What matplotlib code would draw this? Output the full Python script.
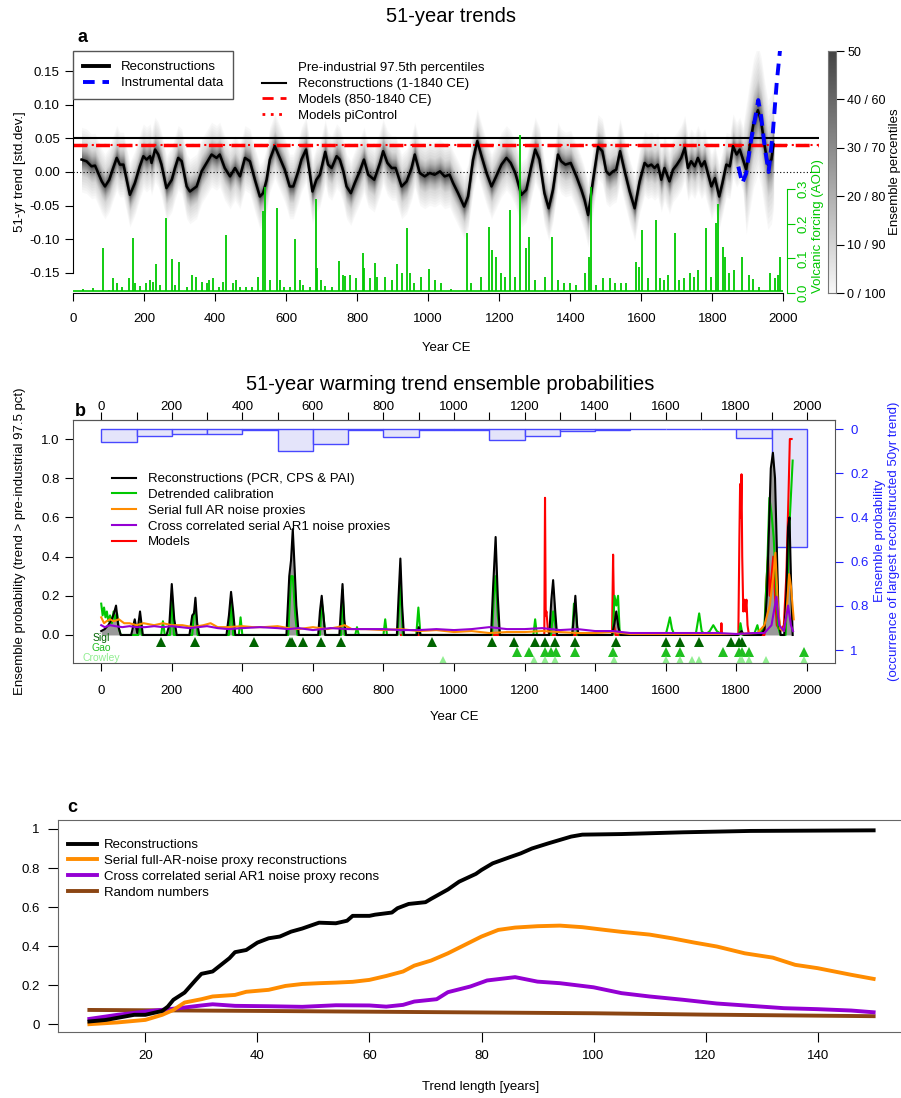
import matplotlib
matplotlib.use("Agg")
import matplotlib.pyplot as plt
import numpy as np
from matplotlib.colors import LinearSegmentedColormap
from matplotlib.lines import Line2D
from matplotlib.ticker import MultipleLocator

plt.rcParams['font.family'] = ['Liberation Sans', 'DejaVu Sans']
plt.rcParams['axes.unicode_minus'] = False
plt.rcParams['font.size'] = 9.5

# ---- a: 51-yr trends -------------------------------------------------------
med_years = [24, 38, 52, 62, 71, 81, 90, 102, 113, 123, 132, 142, 160, 174, 188,
             198, 207, 217, 221, 231, 240, 249, 263, 278, 287, 296, 306, 320, 329,
             348, 362, 376, 390, 404, 413, 427, 442, 456, 470, 484, 498, 512, 526,
             535, 545, 554, 568, 582, 596, 610, 620, 634, 643, 656, 665, 674, 685,
             695, 710, 718, 728, 742, 751, 761, 770, 782, 793, 807, 819, 831, 848,
             864, 873, 885, 897, 908, 925, 939, 953, 962, 976, 990, 1004, 1018,
             1033, 1046, 1060, 1070, 1084, 1101, 1112, 1126, 1138, 1150, 1164,
             1178, 1189, 1206, 1220, 1232, 1245, 1262, 1276, 1290, 1301, 1313,
             1327, 1339, 1351, 1365, 1374, 1386, 1401, 1417, 1431, 1440, 1450,
             1464, 1478, 1490, 1501, 1510, 1520, 1529, 1540, 1553, 1567, 1581,
             1595, 1609, 1618, 1628, 1637, 1646, 1656, 1665, 1679, 1689, 1700,
             1712, 1722, 1731, 1740, 1750, 1759, 1769, 1778, 1788, 1797, 1807,
             1819, 1828, 1839, 1849, 1858, 1868, 1877, 1886, 1895, 1905, 1916,
             1928, 1937, 1947, 1956, 1966, 1972]
med_trend = [0.0185, 0.016, 0.0085, 0.0095, -0.0015, -0.014, -0.0215, -0.0115,
             0.006, 0.021, 0.011, 0.011, -0.034, -0.0165, 0.0085, 0.0235, 0.0185,
             0.0235, 0.0135, 0.0335, 0.026, 0.011, -0.024, -0.0115, 0.006, 0.021,
             0.016, -0.0215, -0.029, -0.0215, 0.001, 0.0135, 0.026, 0.021, 0.026,
             0.006, -0.0065, 0.006, -0.0065, 0.021, 0.016, -0.0115, -0.0365,
             -0.0315, -0.0115, 0.0185, 0.0385, 0.021, 0.0035, -0.0215, -0.0215,
             0.001, 0.0185, 0.0335, 0.0035, -0.029, -0.0115, -0.004, 0.03, 0.011,
             0.006, 0.0235, 0.0185, 0.001, -0.0215, -0.0315, -0.0165, 0.001,
             0.0185, -0.004, -0.0115, 0.0135, 0.031, 0.0135, 0.006, 0.006,
             -0.0215, -0.014, 0.006, 0.026, -0.0015, -0.0065, -0.0015, -0.004,
             0.001, -0.0065, -0.004, -0.0165, -0.0315, -0.0515, -0.0365, 0.0185,
             0.046, 0.0235, -0.0015, -0.0215, -0.009, 0.011, 0.021, 0.0135,
             -0.0015, -0.034, -0.0265, 0.0085, 0.0335, 0.0185, -0.0315, -0.054,
             -0.0265, 0.026, 0.016, 0.011, 0.0135, -0.0065, -0.0265, -0.0415,
             -0.064, -0.0115, 0.0375, 0.031, 0.001, -0.004, 0.001, 0.0035, 0.031,
             0.001, -0.029, -0.054, -0.014, 0.0135, 0.0085, 0.011, 0.006, 0.011,
             -0.0115, 0.006, -0.014, 0.0035, 0.011, 0.021, 0.036, 0.006, 0.016,
             0.0085, 0.021, 0.0085, 0.016, -0.004, -0.0215, -0.009, -0.0365,
             -0.0165, 0.011, 0.0085, 0.0385, 0.026, 0.0335, 0.0185, 0.0035,
             0.0385, 0.0735, 0.092, 0.075, 0.0385, 0.011, 0.0185, 0.041]

# half-widths of the percentile pairs 50, 40/60, 30/70, 20/80, 10/90, 0/100
pct_pos = [0.0, 0.2, 0.4, 0.6, 0.8, 1.0]
pct_halfwidth = [0.0, 0.004, 0.009, 0.015, 0.024, 0.048]

instr_years = [1873, 1884, 1895, 1909, 1923, 1929, 1937, 1947, 1958, 1970, 1981, 1991]
instr_trend = [0.008, -0.017, -0.002, 0.048, 0.088, 0.107, 0.083, 0.038, 0.0,
               0.058, 0.133, 0.185]

pi_rec_975 = 0.05
pi_mod_975 = 0.0405
pi_ctrl_975 = 0.0395

volc_years = [29, 57, 85, 102, 113, 123, 137, 158, 168, 174, 190, 205, 217, 226,
              235, 245, 263, 278, 287, 299, 320, 334, 346, 362, 376, 383, 393,
              412, 423, 432, 449, 460, 470, 488, 503, 521, 534, 540, 554, 573,
              582, 594, 611, 626, 638, 648, 667, 683, 687, 697, 709, 728, 748,
              760, 767, 779, 798, 815, 820, 836, 851, 857, 878, 897, 913, 927,
              939, 948, 960, 981, 1002, 1018, 1035, 1065, 1110, 1121, 1148, 1170,
              1180, 1192, 1206, 1215, 1229, 1245, 1258, 1276, 1283, 1300, 1328,
              1347, 1366, 1383, 1399, 1415, 1440, 1453, 1459, 1473, 1492, 1511,
              1527, 1543, 1558, 1584, 1593, 1601, 1619, 1640, 1652, 1665, 1674,
              1695, 1707, 1721, 1736, 1749, 1760, 1782, 1797, 1809, 1817, 1830,
              1836, 1848, 1862, 1883, 1904, 1913, 1932, 1963, 1975, 1984, 1991]
volc_aod = [0.013, 0.015, 0.13, 0.01, 0.042, 0.028, 0.018, 0.042, 0.158, 0.028,
            0.02, 0.028, 0.038, 0.033, 0.084, 0.023, 0.216, 0.098, 0.023, 0.091,
            0.018, 0.052, 0.047, 0.033, 0.028, 0.038, 0.042, 0.018, 0.033, 0.168,
            0.028, 0.038, 0.018, 0.018, 0.018, 0.047, 0.236, 0.308, 0.038, 0.245,
            0.038, 0.018, 0.018, 0.156, 0.038, 0.023, 0.018, 0.271, 0.071, 0.038,
            0.02, 0.018, 0.094, 0.052, 0.049, 0.052, 0.042, 0.115, 0.071, 0.042,
            0.088, 0.047, 0.045, 0.038, 0.084, 0.057, 0.187, 0.057, 0.03, 0.047,
            0.069, 0.038, 0.028, 0.013, 0.175, 0.028, 0.047, 0.19, 0.125, 0.105,
            0.057, 0.047, 0.24, 0.045, 0.458, 0.13, 0.163, 0.038, 0.045, 0.161,
            0.038, 0.028, 0.028, 0.023, 0.057, 0.105, 0.308, 0.023, 0.042, 0.042,
            0.028, 0.028, 0.028, 0.091, 0.076, 0.181, 0.042, 0.21, 0.042, 0.038,
            0.052, 0.175, 0.038, 0.042, 0.057, 0.047, 0.066, 0.187, 0.047, 0.202,
            0.257, 0.134, 0.105, 0.057, 0.066, 0.103, 0.052, 0.04, 0.018, 0.057,
            0.042, 0.052, 0.105]
aod_background = 0.006

pct_ticks = [0, 10, 20, 30, 40, 50]
pct_labels = ['0 / 100', '10 / 90', '20 / 80', '30 / 70', '40 / 60', '50']

# ---- b: ensemble probabilities --------------------------------------------
cent_start = [0, 100, 200, 300, 400, 500, 600, 700, 800, 900, 1000, 1100, 1200,
              1300, 1400, 1500, 1600, 1700, 1800, 1900]
cent_prob = [0.06, 0.033, 0.024, 0.023, 0.006, 0.10, 0.068, 0.005, 0.035, 0.003,
             0.003, 0.05, 0.033, 0.01, 0.006, 0.0, 0.0, 0.0, 0.042, 0.535]

rec_years = [0, 10, 20, 30, 36, 42, 48, 55, 85, 95, 102, 110, 118, 185, 193, 200,
             207, 214, 250, 258, 263, 267, 272, 278, 355, 362, 368, 374, 380, 525,
             533, 538, 543, 548, 553, 560, 615, 620, 625, 630, 635, 675, 680, 684,
             689, 694, 838, 843, 848, 853, 858, 895, 900, 905, 1105, 1111, 1118,
             1124, 1130, 1270, 1276, 1281, 1287, 1292, 1335, 1340, 1344, 1349,
             1353, 1448, 1455, 1460, 1466, 1472, 1805, 1815, 1822, 1830, 1870,
             1880, 1887, 1893, 1898, 1904, 1910, 1915, 1920, 1926, 1936, 1942,
             1947, 1951, 1955, 1960]
rec_prob = [0.02, 0.03, 0.05, 0.08, 0.11, 0.15, 0.05, 0.0, 0.0, 0.08, 0.01, 0.12,
            0.0, 0.0, 0.05, 0.26, 0.08, 0.0, 0.0, 0.1, 0.11, 0.19, 0.06, 0.0, 0.0,
            0.1, 0.22, 0.12, 0.0, 0.0, 0.3, 0.38, 0.54, 0.35, 0.15, 0.0, 0.0, 0.12,
            0.2, 0.1, 0.0, 0.0, 0.15, 0.26, 0.08, 0.0, 0.0, 0.2, 0.39, 0.15, 0.0,
            0.0, 0.04, 0.0, 0.0, 0.25, 0.5, 0.2, 0.0, 0.0, 0.18, 0.28, 0.12, 0.0,
            0.0, 0.1, 0.2, 0.05, 0.0, 0.0, 0.06, 0.12, 0.04, 0.0, 0.0, 0.02, 0.0,
            0.0, 0.0, 0.03, 0.2, 0.55, 0.85, 0.93, 0.8, 0.45, 0.1, 0.0, 0.0, 0.2,
            0.55, 0.6, 0.3, 0.0]

det_years = [0, 4, 8, 12, 16, 20, 25, 30, 35, 40, 45, 50, 56, 105, 110, 115, 170,
             175, 180, 195, 200, 206, 258, 263, 268, 273, 362, 368, 374, 390, 395,
             400, 530, 538, 543, 550, 556, 620, 625, 630, 635, 680, 684, 690, 720,
             725, 730, 800, 805, 810, 840, 848, 855, 893, 899, 905, 1108, 1113,
             1118, 1124, 1130, 1225, 1230, 1235, 1275, 1281, 1287, 1292, 1335,
             1340, 1345, 1350, 1450, 1455, 1460, 1465, 1470, 1600, 1607, 1612,
             1618, 1625, 1685, 1695, 1702, 1712, 1725, 1735, 1745, 1760, 1808,
             1812, 1818, 1850, 1860, 1866, 1880, 1888, 1894, 1900, 1906, 1912,
             1918, 1925, 1940, 1946, 1952, 1960]
det_prob = [0.16, 0.1, 0.14, 0.09, 0.12, 0.07, 0.1, 0.06, 0.12, 0.08, 0.11, 0.03,
            0.0, 0.0, 0.06, 0.0, 0.0, 0.07, 0.0, 0.0, 0.21, 0.0, 0.0, 0.12, 0.12,
            0.0, 0.0, 0.19, 0.0, 0.0, 0.09, 0.0, 0.0, 0.3, 0.3, 0.1, 0.0, 0.0,
            0.17, 0.1, 0.0, 0.0, 0.23, 0.0, 0.0, 0.04, 0.0, 0.0, 0.08, 0.0, 0.0,
            0.26, 0.0, 0.0, 0.14, 0.0, 0.0, 0.2, 0.3, 0.1, 0.0, 0.0, 0.08, 0.0,
            0.0, 0.12, 0.05, 0.0, 0.0, 0.16, 0.14, 0.0, 0.0, 0.2, 0.15, 0.2, 0.0,
            0.0, 0.05, 0.09, 0.03, 0.0, 0.0, 0.11, 0.02, 0.0, 0.02, 0.05, 0.02,
            0.0, 0.0, 0.06, 0.0, 0.0, 0.05, 0.0, 0.05, 0.35, 0.7, 0.62, 0.5, 0.3,
            0.05, 0.0, 0.0, 0.3, 0.6, 0.89]

ar_years = [0, 8, 15, 25, 35, 50, 65, 80, 100, 120, 150, 175, 200, 230, 260, 290,
            310, 330, 360, 400, 430, 460, 500, 530, 560, 600, 640, 670, 690, 710,
            750, 800, 850, 900, 950, 1000, 1050, 1100, 1150, 1200, 1250, 1300,
            1350, 1400, 1450, 1500, 1600, 1700, 1800, 1860, 1880, 1895, 1905,
            1911, 1918, 1925, 1935, 1942, 1950, 1955, 1963]
ar_prob = [0.09, 0.06, 0.07, 0.08, 0.07, 0.08, 0.06, 0.06, 0.05, 0.06, 0.05, 0.06,
           0.05, 0.05, 0.04, 0.05, 0.06, 0.04, 0.04, 0.045, 0.04, 0.04, 0.045,
           0.035, 0.03, 0.04, 0.03, 0.04, 0.05, 0.03, 0.03, 0.025, 0.03, 0.02,
           0.025, 0.015, 0.02, 0.01, 0.015, 0.015, 0.02, 0.015, 0.01, 0.01, 0.015,
           0.005, 0.005, 0.005, 0.005, 0.01, 0.05, 0.15, 0.3, 0.42, 0.15, 0.03,
           0.02, 0.1, 0.31, 0.25, 0.08]

cc_years = [0, 10, 25, 40, 60, 80, 100, 125, 150, 175, 200, 225, 250, 275, 300,
            330, 360, 400, 450, 500, 530, 560, 600, 650, 700, 750, 800, 850, 900,
            950, 1000, 1050, 1100, 1150, 1200, 1250, 1300, 1350, 1400, 1450, 1500,
            1550, 1600, 1650, 1700, 1750, 1800, 1850, 1880, 1900, 1914, 1922,
            1935, 1947, 1955, 1961]
cc_prob = [0.05, 0.04, 0.05, 0.045, 0.04, 0.045, 0.04, 0.04, 0.045, 0.04, 0.045,
           0.04, 0.035, 0.04, 0.045, 0.035, 0.03, 0.035, 0.04, 0.035, 0.03, 0.035,
           0.025, 0.035, 0.03, 0.03, 0.03, 0.025, 0.025, 0.03, 0.025, 0.03, 0.04,
           0.03, 0.03, 0.035, 0.025, 0.03, 0.02, 0.02, 0.01, 0.01, 0.01, 0.01,
           0.01, 0.01, 0.005, 0.01, 0.01, 0.05, 0.195, 0.05, 0.02, 0.15, 0.05,
           0.02]

mod_years = [850, 1000, 1250, 1256, 1258, 1260, 1262, 1266, 1270, 1448, 1451, 1454,
             1458, 1756, 1758, 1760, 1806, 1809, 1811, 1813, 1815, 1817, 1820,
             1823, 1826, 1829, 1832, 1836, 1880, 1885, 1890, 1895, 1900, 1905,
             1910, 1915, 1925, 1935, 1942, 1948, 1952, 1957]
mod_prob = [0.0, 0.0, 0.0, 0.0, 0.70, 0.1, 0.12, 0.03, 0.0, 0.0, 0.41, 0.05, 0.0,
            0.0, 0.06, 0.0, 0.0, 0.5, 0.77, 0.6, 0.82, 0.4, 0.12, 0.18, 0.12,
            0.18, 0.05, 0.0, 0.0, 0.25, 0.4, 0.2, 0.3, 0.4, 0.2, 0.05, 0.02, 0.05,
            0.3, 0.7, 1.0, 1.0]

sigl_years = [169, 266, 432, 536, 540, 573, 624, 681, 939, 1107, 1170, 1229, 1257,
              1286, 1344, 1458, 1600, 1640, 1695, 1784, 1809, 1815]
gao_years = [1178, 1213, 1258, 1275, 1288, 1343, 1452, 1601, 1641, 1763, 1809,
             1815, 1835, 1991]
crowley_years = [970, 1228, 1258, 1287, 1454, 1600, 1640, 1674, 1695, 1812, 1815,
                 1836, 1883, 1991]

# ---- c: probability vs trend length ---------------------------------------
len_rec = [10, 13, 18, 20, 23, 24, 25, 27, 29, 30, 32, 35, 36, 38, 40, 42, 44, 46,
           48, 51, 54, 56, 57, 60, 61, 64, 65, 67, 70, 71, 74, 76, 79, 80, 82, 85,
           87, 89, 92, 94, 96, 98, 105, 116, 128, 150]
p_rec = [0.014, 0.022, 0.048, 0.048, 0.068, 0.09, 0.125, 0.162, 0.227, 0.258,
         0.27, 0.338, 0.369, 0.38, 0.418, 0.44, 0.449, 0.474, 0.49, 0.52, 0.517,
         0.53, 0.555, 0.555, 0.561, 0.572, 0.594, 0.616, 0.625, 0.642, 0.69, 0.73,
         0.77, 0.79, 0.824, 0.855, 0.875, 0.9, 0.927, 0.944, 0.961, 0.971, 0.974,
         0.983, 0.99, 0.993]
len_ar = [10, 15, 20, 23, 25, 27, 30, 32, 36, 38, 42, 45, 48, 51, 54, 57, 60, 63,
          66, 68, 71, 74, 77, 80, 83, 86, 90, 94, 98, 102, 105, 110, 114, 118, 122,
          127, 132, 136, 140, 146, 150]
p_ar = [0.0, 0.009, 0.022, 0.048, 0.073, 0.111, 0.128, 0.142, 0.15, 0.166, 0.176,
        0.196, 0.206, 0.21, 0.213, 0.217, 0.227, 0.247, 0.27, 0.3, 0.326, 0.363,
        0.406, 0.449, 0.483, 0.495, 0.502, 0.505, 0.497, 0.483, 0.473, 0.459, 0.44,
        0.418, 0.398, 0.363, 0.341, 0.304, 0.287, 0.253, 0.232]
len_cc = [10, 15, 21, 26, 30, 32, 36, 42, 48, 54, 60, 63, 66, 68, 72, 74, 78, 81,
          86, 90, 94, 100, 105, 110, 116, 122, 128, 134, 140, 146, 150]
p_cc = [0.027, 0.048, 0.068, 0.082, 0.096, 0.102, 0.094, 0.092, 0.089, 0.097,
        0.096, 0.09, 0.099, 0.116, 0.128, 0.164, 0.193, 0.224, 0.241, 0.218, 0.21,
        0.189, 0.159, 0.142, 0.125, 0.106, 0.094, 0.082, 0.077, 0.07, 0.061]
len_rand = [10, 40, 75, 100, 120, 150]
p_rand = [0.073, 0.068, 0.061, 0.056, 0.049, 0.041]

GREEN = '#00c800'
BOXC = '#555555'
FS = 9.5
W, H = 901, 1098


def fx(px):
    return px / W


def fy(py):
    return 1 - py / H


def box(x0, y0, x1, y1):
    return [fx(x0), fy(y1), (x1 - x0) / W, (y1 - y0) / H]


gray_cmap = LinearSegmentedColormap.from_list('pct', ['#444444', '#f8f8f8'])

fig = plt.figure(figsize=(9.01, 10.98), dpi=100)

# ============================ panel a ============================
ax_a = fig.add_axes(box(73, 51, 819, 293))
ax_a.set_xlim(0, 2100)
ax_a.set_ylim(-0.18, 0.18)
for s in ['top', 'right']:
    ax_a.spines[s].set_visible(False)
ax_a.spines['left'].set_bounds(-0.15, 0.15)
ax_a.spines['bottom'].set_bounds(0, 2000)
ax_a.set_xticks(range(0, 2001, 200))
yt = [-0.15, -0.10, -0.05, 0.0, 0.05, 0.10, 0.15]
ax_a.set_yticks(yt)
ax_a.set_yticklabels(['%.2f' % v for v in yt])
ax_a.tick_params(length=6, width=0.8, labelsize=FS)
ax_a.tick_params(axis='x', pad=8.5)

my = np.array(med_years)
mv = np.array(med_trend)
widen = np.where(my >= 1890, 2.0, 1.0)
frac = np.linspace(1.0, 0.03, 30)
hw = np.interp(frac, pct_pos, pct_halfwidth)
for f, h in zip(frac, hw):
    ax_a.fill_between(my, mv - h * widen, mv + h * widen, color=gray_cmap(f), lw=0)

ax_a.hlines(0, 0, 2080, color='black', lw=0.8, ls=(0, (1, 2)))
ax_a.axhline(pi_rec_975, color='black', lw=1.5)
ax_a.axhline(pi_ctrl_975, color='red', lw=1.5, ls=(0, (1, 2)))
ax_a.axhline(pi_mod_975, color='red', lw=2.5, ls=(0, (4, 2.5)))
ax_a.plot(my, mv, color='black', lw=1.8)
ax_a.plot(instr_years, instr_trend, color='#0000ff', lw=2.8, ls=(0, (3, 2)))

leg1 = ax_a.legend([Line2D([], [], color='black', lw=2.8),
                    Line2D([], [], color='#0000ff', lw=2.8, ls=(0, (3, 2)))],
                   ['Reconstructions', 'Instrumental data'],
                   loc='upper left', bbox_to_anchor=(0, 1), borderaxespad=0,
                   frameon=True, fancybox=False, edgecolor=BOXC, framealpha=1,
                   handlelength=2.0, handletextpad=0.9, borderpad=0.75,
                   labelspacing=0.3, fontsize=FS)
leg1.get_frame().set_linewidth(1.0)
ax_a.add_artist(leg1)
ax_a.legend([Line2D([], [], lw=0),
             Line2D([], [], color='black', lw=1.5),
             Line2D([], [], color='red', lw=2.0, ls=(0, (4, 2.5))),
             Line2D([], [], color='red', lw=2.0, ls=(0, (1, 2)))],
            ['Pre-industrial 97.5th percentiles', 'Reconstructions (1-1840 CE)',
             'Models (850-1840 CE)', 'Models piControl'],
            loc='upper left', bbox_to_anchor=(fx(262), fy(62)),
            bbox_transform=fig.transFigure, borderaxespad=0, borderpad=0,
            frameon=False, handlelength=1.8, handletextpad=0.95,
            labelspacing=0.28, fontsize=FS)

ax_v = ax_a.twinx()
ax_v.set_ylim(0, 0.70)
for s in ['top', 'left', 'bottom']:
    ax_v.spines[s].set_visible(False)
ax_v.spines['right'].set_position(('data', 2011))
ax_v.spines['right'].set_bounds(0, 0.3)
ax_v.spines['right'].set_color(GREEN)
ax_v.set_yticks([0, 0.1, 0.2, 0.3])
ax_v.set_yticklabels(['0.0', '0.1', '0.2', '0.3'], rotation=90, va='center')
ax_v.tick_params(axis='y', colors=GREEN, length=6, width=0.8, pad=1.5, labelsize=FS)
ax_v.hlines(aod_background, 1, 2000, color=GREEN, lw=1.2)
ax_v.vlines(volc_years, aod_background, volc_aod, color=GREEN, lw=1.3)

ax_cb = fig.add_axes(box(828, 51, 836, 293))
grad = np.linspace(0, 50, 256)[:, None]
ax_cb.imshow(grad, aspect='auto', cmap=gray_cmap.reversed(), origin='lower',
             extent=[0, 1, 0, 50], vmin=0, vmax=50)
ax_cb.set_xticks([])
ax_cb.yaxis.tick_right()
ax_cb.set_yticks(pct_ticks)
ax_cb.set_yticklabels(pct_labels)
ax_cb.tick_params(axis='y', length=6, width=0.8, labelsize=9, pad=2)
for s in ax_cb.spines.values():
    s.set_color('#777777')

fig.text(0.5, fy(17), '51-year trends', ha='center', va='center', fontsize=14.5)
fig.text(fx(83), fy(37), 'a', ha='center', va='center', fontsize=13, weight='bold')
fig.text(fx(446), fy(348), 'Year CE', ha='center', va='center', fontsize=FS)
fig.text(fx(20), fy(172), '51-yr trend [std.dev.]', rotation=90, ha='center',
         va='center', fontsize=FS)
fig.text(fx(818), fy(226), 'Volcanic forcing (AOD)', rotation=90, ha='center',
         va='center', fontsize=FS, color=GREEN)
fig.text(fx(895), fy(172), 'Ensemble percentiles', rotation=90, ha='center',
         va='center', fontsize=FS)

# ============================ panel b ============================
ax_b = fig.add_axes(box(73, 420, 835, 663))
ax_b.set_xlim(-80, 2080)
ax_b.set_ylim(-0.143, 1.097)
ax_o = ax_b.twinx()
ax_o.set_ylim(1.0585, -0.041)
ax_b.set_zorder(ax_o.get_zorder() + 1)
ax_b.patch.set_visible(False)
for s in ax_o.spines.values():
    s.set_visible(False)
ax_o.bar(cent_start, cent_prob, width=100, align='edge', color='#e4e4fa',
         edgecolor='#4848ff', lw=1.0)
ax_o.set_yticks([0, 0.2, 0.4, 0.6, 0.8, 1.0])
ax_o.set_yticklabels(['0', '0.2', '0.4', '0.6', '0.8', '1'])
ax_o.tick_params(axis='y', colors='#2020ff', length=6, width=0.8, pad=5, labelsize=FS)

for s in ax_b.spines.values():
    s.set_color(BOXC)
ax_b.set_xticks(range(0, 2001, 200))
ax_b.tick_params(axis='x', length=6, width=0.8, labelsize=FS, pad=10)
ax_b.set_yticks([0, 0.2, 0.4, 0.6, 0.8, 1.0])
ax_b.set_yticklabels(['0.0', '0.2', '0.4', '0.6', '0.8', '1.0'])
ax_b.tick_params(axis='y', length=6, width=0.8, labelsize=FS)

ax_top = ax_b.secondary_xaxis('top')
ax_top.set_xticks(range(0, 2001, 200))
ax_top.xaxis.set_minor_locator(MultipleLocator(100))
ax_top.tick_params(axis='x', which='both', length=6, width=0.8, labelsize=FS, pad=-1)
ax_top.spines['top'].set_color(BOXC)

ax_b.fill_between(rec_years, 0, rec_prob, color='#999999', lw=0)
ax_b.plot(mod_years, mod_prob, color='#ff0000', lw=1.5)
ax_b.plot(det_years, det_prob, color=GREEN, lw=1.5)
ax_b.plot(rec_years, rec_prob, color='black', lw=1.5)
ax_b.plot(ar_years, ar_prob, color='#ff8c00', lw=1.5)
ax_b.plot(cc_years, cc_prob, color='#9400d3', lw=1.5)

ax_b.plot(sigl_years, [-0.036] * len(sigl_years), '^', color='#006400', ms=7, mew=0)
ax_b.plot(gao_years, [-0.087] * len(gao_years), '^', color='#20c020', ms=7, mew=0)
ax_b.plot(crowley_years, [-0.133] * len(crowley_years), '^', color='#90ee90', ms=7,
          mew=0)

ax_b.legend([Line2D([], [], color=c, lw=1.5) for c in
             ['black', GREEN, '#ff8c00', '#9400d3', '#ff0000']],
            ['Reconstructions (PCR, CPS & PAI)', 'Detrended calibration',
             'Serial full AR noise proxies', 'Cross correlated serial AR1 noise proxies',
             'Models'],
            loc='upper left', bbox_to_anchor=(fx(112), fy(473)),
            bbox_transform=fig.transFigure, borderaxespad=0, borderpad=0,
            frameon=False, handlelength=1.8, handletextpad=0.95,
            labelspacing=0.27, fontsize=FS)

fig.text(fx(101), fy(638), 'Sigl', ha='center', va='center', fontsize=7.5,
         color='#006400')
fig.text(fx(101), fy(648), 'Gao', ha='center', va='center', fontsize=7.5,
         color='#20c020')
fig.text(fx(101), fy(658), 'Crowley', ha='center', va='center', fontsize=7.5,
         color='#90ee90')

fig.text(0.5, fy(385), '51-year warming trend ensemble probabilities', ha='center',
         va='center', fontsize=14.5)
fig.text(fx(80), fy(411), 'b', ha='center', va='center', fontsize=13, weight='bold')
fig.text(fx(454), fy(717), 'Year CE', ha='center', va='center', fontsize=FS)
fig.text(fx(20), fy(541), 'Ensemble probability (trend > pre-industrial 97.5 pct)',
         rotation=90, ha='center', va='center', fontsize=FS)
fig.text(fx(887), fy(541),
         'Ensemble probability\n(occurrence of largest reconstructed 50yr trend)',
         rotation=90, ha='center', va='center', fontsize=FS, color='#2020ff',
         linespacing=1.2)

# ============================ panel c ============================
ax_c = fig.add_axes(box(58, 820, 905, 1032))
ax_c.set_xlim(4.4, 155.6)
ax_c.set_ylim(-0.04, 1.046)
for s in ax_c.spines.values():
    s.set_color('#666666')
ax_c.set_xticks(range(20, 141, 20))
ax_c.set_yticks([0, 0.2, 0.4, 0.6, 0.8, 1.0])
ax_c.set_yticklabels(['0', '0.2', '0.4', '0.6', '0.8', '1'])
ax_c.tick_params(length=7, width=0.8, labelsize=FS, pad=6)

ax_c.plot(len_rand, p_rand, color='#8b4513', lw=2.8)
ax_c.plot(len_cc, p_cc, color='#9400d3', lw=2.8)
ax_c.plot(len_ar, p_ar, color='#ff8c00', lw=2.8)
ax_c.plot(len_rec, p_rec, color='black', lw=2.8)

ax_c.legend([Line2D([], [], color=c, lw=2.8) for c in
             ['black', '#ff8c00', '#9400d3', '#8b4513']],
            ['Reconstructions', 'Serial full-AR-noise proxy reconstructions',
             'Cross correlated serial AR1 noise proxy recons', 'Random numbers'],
            loc='upper left', bbox_to_anchor=(fx(68), fy(839)),
            bbox_transform=fig.transFigure, borderaxespad=0, borderpad=0,
            frameon=False, handlelength=2.2, handletextpad=0.55,
            labelspacing=0.27, fontsize=FS)

fig.text(fx(72), fy(808), 'c', ha='center', va='center', fontsize=13, weight='bold')
fig.text(fx(481), fy(1087), 'Trend length [years]', ha='center', va='center',
         fontsize=FS)

fig.savefig('out.png', dpi=100)
